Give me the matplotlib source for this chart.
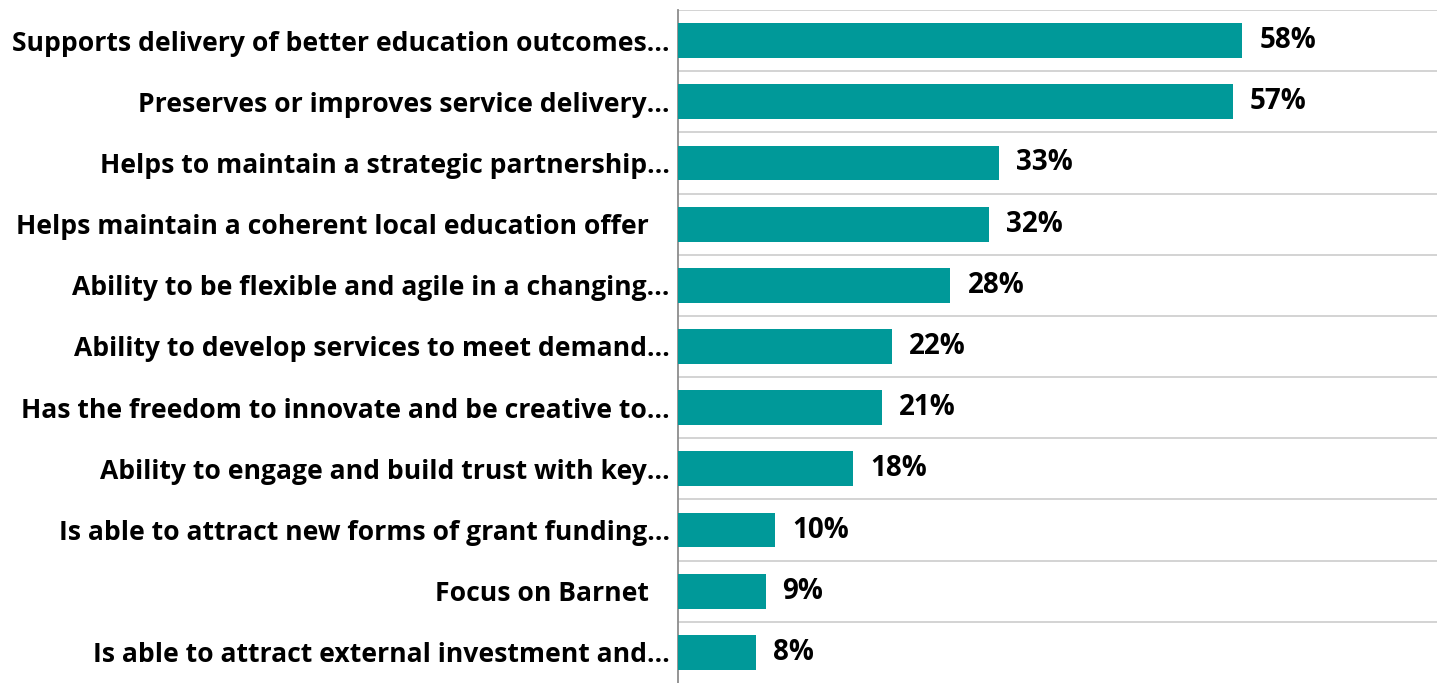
import matplotlib
matplotlib.use("Agg")
import matplotlib.pyplot as plt

categories = [
    "Supports delivery of better education outcomes…",
    "Preserves or improves service delivery…",
    "Helps to maintain a strategic partnership…",
    "Helps maintain a coherent local education offer   ",
    "Ability to be flexible and agile in a changing…",
    "Ability to develop services to meet demand…",
    "Has the freedom to innovate and be creative to…",
    "Ability to engage and build trust with key…",
    "Is able to attract new forms of grant funding…",
    "Focus on Barnet   ",
    "Is able to attract external investment and…",
]
values = [58, 57, 33, 32, 28, 22, 21, 18, 10, 9, 8]
value_labels = ["58%", "57%", "33%", "32%", "28%", "22%", "21%", "18%", "10%", "9%", "8%"]

BAR = "#009999"
FONT = ["Open Sans", "DejaVu Sans"]

fig = plt.figure(figsize=(14.37, 6.83), dpi=100)
ax = fig.add_axes([678/1437, 0.0, 1 - 678/1437, 1 - 10/683])

n = len(categories)
ypos = list(range(n))
ax.barh(ypos, values, height=0.57, color=BAR, zorder=3)
ax.set_ylim(n - 0.5, -0.5)
ax.set_xlim(0, 78)

# gridlines between categories
for k in range(n):
    ax.axhline(k - 0.5, color="#d0d0d0", lw=1.3, zorder=1)

for y, v, lab in zip(ypos, values, value_labels):
    ax.annotate(lab, (v, y), xytext=(17, 0), textcoords="offset pixels",
                ha="left", va="center", fontsize=20, fontweight="bold",
                family=FONT, color="black")

ax.set_yticks(ypos)
ax.set_yticklabels(categories, fontsize=19.1, fontweight="bold", family=FONT)
ax.tick_params(axis="y", length=0, pad=6)
ax.set_xticks([])
for s in ["top", "right", "bottom"]:
    ax.spines[s].set_visible(False)
ax.spines["left"].set_color("#8c8c8c")
ax.spines["left"].set_linewidth(1.3)

fig.savefig("out.png", dpi=100)
